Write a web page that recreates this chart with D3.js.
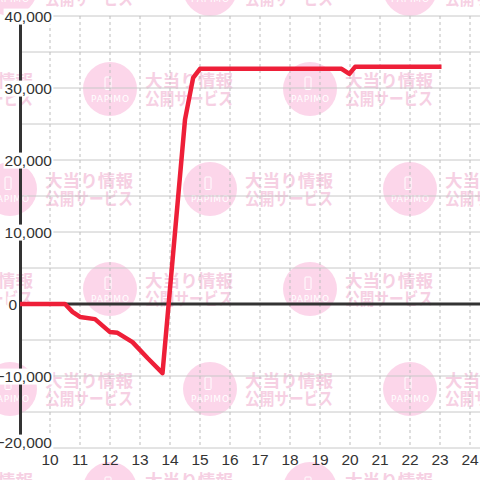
<!DOCTYPE html>
<html>
<head>
<meta charset="utf-8">
<script src="https://cdn.jsdelivr.net/npm/d3@7"></script>
<style>
  body { margin: 0; background: #fff; }
  svg { display: block; }
</style>
</head>
<body>
<div id="chart"></div>
<script>
// hour of day (decimal) and running balance
const times  = [9.0, 10.5, 10.75, 11.0, 11.5, 12.0, 12.25, 12.75, 13.25, 13.75, 14.5, 14.77, 15.0, 19.72, 19.98, 20.17, 23.05];
const values = [0, 0, -1100, -1800, -2100, -3900, -4000, -5300, -7500, -9600, 25600, 31400, 32670, 32670, 31950, 32940, 32940];

const xTicks = [10, 11, 12, 13, 14, 15, 16, 17, 18, 19, 20, 21, 22, 23, 24];
const yTicks = [-20000, -10000, 0, 10000, 20000, 30000, 40000];
const yMinor = [-15000, -5000, 5000, 15000, 25000, 35000];

const W = 480, H = 480;

let svg = d3.select("#chart")
    .append("svg")
    .attr("width", W)
    .attr("height", H);

let x = d3.scaleLinear().domain([9, 24]).range([20, 470]);
let y = d3.scaleLinear().domain([-20000, 40000]).range([448, 16]);

// watermark background
let wm = svg.append("g");
for (let r = 0; r < 6; r++) {
    let cy = -11 + 100 * r;
    for (let cx = 10 + 100 * (r % 2) - 200; cx < W + 50; cx += 200) {
        let g = wm.append("g").attr("transform", "translate(" + cx + "," + cy + ")");
        g.append("circle").attr("r", 27).attr("fill", "#fcd6ea");
        g.append("rect")
            .attr("x", -5).attr("y", -12).attr("width", 6).attr("height", 12.5)
            .attr("rx", 1).attr("fill", "none").attr("stroke", "#fff").attr("stroke-width", 1);
        g.append("text")
            .attr("x", -19).attr("y", 13)
            .attr("font-family", "DejaVu Sans, sans-serif").attr("font-size", 9)
            .attr("textLength", 38).attr("lengthAdjust", "spacing")
            .attr("fill", "#fff")
            .text("PAPIMO");
        g.append("text")
            .attr("x", 35).attr("y", -2)
            .attr("font-family", "Noto Sans CJK JP").attr("font-weight", 700).attr("font-size", 17)
            .attr("textLength", 88).attr("lengthAdjust", "spacingAndGlyphs")
            .attr("fill", "#f6d0e3")
            .text("大当り情報");
        g.append("text")
            .attr("x", 35).attr("y", 16)
            .attr("font-family", "Noto Sans CJK JP").attr("font-weight", 700).attr("font-size", 17)
            .attr("textLength", 88).attr("lengthAdjust", "spacingAndGlyphs")
            .attr("fill", "#f6d0e3")
            .text("公開サービス");
    }
}

// grid
svg.append("g").selectAll("line")
    .data(yTicks.concat(yMinor))
    .enter().append("line")
    .attr("x1", 20).attr("x2", W)
    .attr("y1", d => y(d)).attr("y2", d => y(d))
    .attr("stroke", "#c8c8c8").attr("stroke-width", 1);

svg.append("g").selectAll("line")
    .data(xTicks)
    .enter().append("line")
    .attr("x1", d => x(d)).attr("x2", d => x(d))
    .attr("y1", y(40000)).attr("y2", y(-20000))
    .attr("stroke", "#bdbdbd").attr("stroke-width", 1)
    .attr("stroke-dasharray", "3,3");

// axis lines
svg.append("line")
    .attr("x1", 20.5).attr("x2", 20.5)
    .attr("y1", y(40000)).attr("y2", y(-20000))
    .attr("stroke", "#333").attr("stroke-width", 3);
svg.append("line")
    .attr("x1", 19).attr("x2", W)
    .attr("y1", y(0)).attr("y2", y(0))
    .attr("stroke", "#333").attr("stroke-width", 3);

// y labels with white box (zero sits left of the axis)
let fmt = d3.format(",");
let yl = svg.append("g").selectAll("g")
    .data(yTicks)
    .enter().append("g");
yl.append("text")
    .attr("x", d => d === 0 ? 17 : 52)
    .attr("y", d => Math.min(y(d), 442))
    .attr("dy", "0.36em")
    .attr("text-anchor", "end")
    .attr("font-family", "Liberation Sans, Arial, sans-serif")
    .attr("font-size", 15.5)
    .attr("fill", "#333")
    .text(d => fmt(d));
yl.each(function () {
    let t = d3.select(this).select("text");
    let b = t.node().getBBox();
    d3.select(this).insert("rect", "text")
        .attr("x", b.x - 1).attr("y", b.y + 1)
        .attr("width", b.width + 2).attr("height", b.height - 1)
        .attr("fill", "#fff");
});

// balance line
let line = d3.line()
    .x((d, i) => x(times[i]))
    .y(d => y(d));
svg.append("path")
    .datum(values)
    .attr("d", line)
    .attr("fill", "none")
    .attr("stroke", "#ee1f38")
    .attr("stroke-width", 4.5)
    .attr("stroke-linejoin", "round");

// x labels
svg.append("g").selectAll("text")
    .data(xTicks)
    .enter().append("text")
    .attr("x", d => x(d))
    .attr("y", 465)
    .attr("text-anchor", "middle")
    .attr("font-family", "Liberation Sans, Arial, sans-serif")
    .attr("font-size", 15.5)
    .attr("fill", "#333")
    .text(d => d);
</script>
</body>
</html>
